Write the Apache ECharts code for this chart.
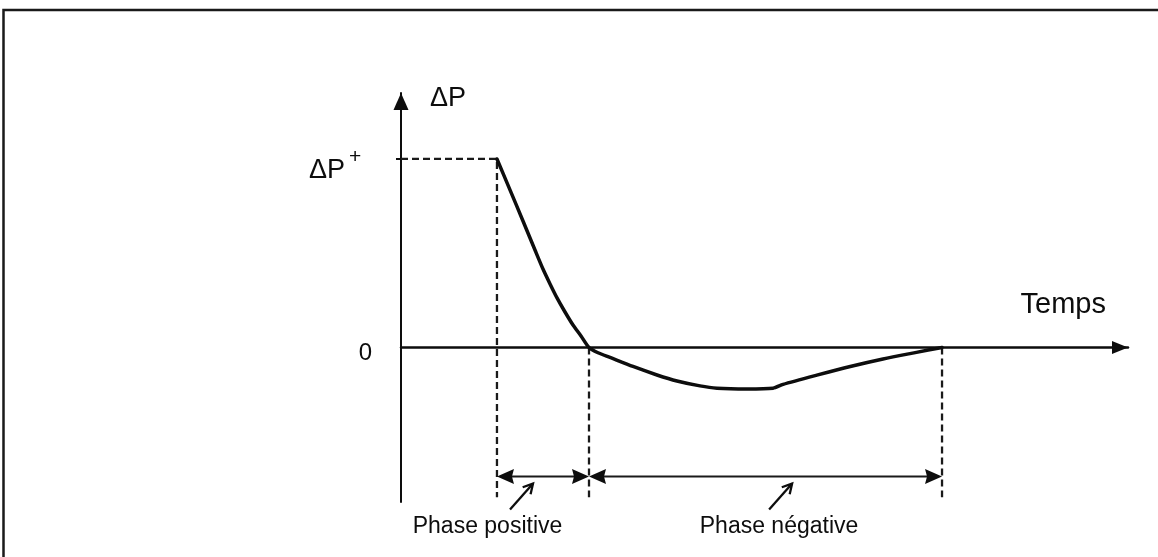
<!DOCTYPE html>
<html>
<head>
<meta charset="utf-8">
<script src="https://cdn.jsdelivr.net/npm/echarts@6/dist/echarts.min.js"></script>
<style>
html,body{margin:0;padding:0;background:#fff;}
#chart{width:1158px;height:557px;}
</style>
</head>
<body>
<div id="chart"></div>
<script>
// ---------------- data (time: arbitrary units, pressure relative to ΔP+ = 1) ----------------
const curveTime = [13.2, 14.99, 16.78, 18.43, 19.53, 20.50, 21.46, 22.56, 23.66, 24.76, 25.86,
                   27.10, 28.75, 31.91, 35.21, 37.96, 41.13, 43.47, 47.59, 51.17, 52.55,
                   57.2, 61.8, 66.3, 70.9, 74.42];
const curvePressure = [1.0, 0.836, 0.671, 0.517, 0.416, 0.337, 0.263, 0.188, 0.119, 0.061, 0,
                       -0.028, -0.053, -0.101, -0.146, -0.178, -0.204, -0.216, -0.220, -0.216, -0.196,
                       -0.147, -0.101, -0.061, -0.026, 0];
const peakPressure = 1;        // ΔP+
const tArrival = 13.2;         // start of positive phase
const tZeroCross = 25.86;      // end of positive phase
const tEnd = 74.42;            // end of negative phase
const phaseNames = ['Phase positive', 'Phase négative'];
const phaseStart = [tArrival, tZeroCross];
const phaseEnd = [tZeroCross, tEnd];
const phaseLabelTime = [11.9, 52.0];
const phaseArrowTime = [18.16, 53.8];
const yAxisName = 'ΔP';
const xAxisName = 'Temps';
const zeroLabel = '0';
const peakLabel = 'ΔP';
const peakSup = '+';

// axis ranges
const xMin = 0, xMax = 100;
const yMin = -0.82, yMax = 1.35;
const dimLevel = -0.685;       // level of the dimension arrows
const dashBottom = -0.795;     // lower end of the vertical guide lines

const FONT = '"Liberation Sans", Arial, sans-serif';
const INK = '#0d0d0d';

const chart = echarts.init(document.getElementById('chart'), null, {renderer: 'canvas'});

function dashSeries(points) {
  return {
    type: 'line', data: points, symbol: 'none', silent: true, z: 2,
    lineStyle: {color: '#1a1a1a', width: 2.3, type: [7, 4]}
  };
}

const option = {
  animation: false,
  backgroundColor: '#fff',
  textStyle: {fontFamily: FONT},
  grid: {left: 401, right: 30, top: 93, bottom: 55, containLabel: false},
  xAxis: {
    type: 'value', min: xMin, max: xMax,
    name: xAxisName, nameLocation: 'end', nameGap: -22,
    nameTextStyle: {fontSize: 29, color: INK, fontFamily: FONT, align: 'right', verticalAlign: 'bottom', padding: [0, 0, 28, 0]},
    axisLine: {show: true, onZero: true, symbol: ['none', 'triangle'], symbolSize: [13, 16], symbolOffset: [0, -8],
      lineStyle: {color: INK, width: 2.5}},
    axisTick: {show: false}, axisLabel: {show: false}, splitLine: {show: false}
  },
  yAxis: {
    type: 'value', min: yMin, max: yMax,
    name: yAxisName, nameLocation: 'end', nameGap: -6,
    nameTextStyle: {fontSize: 27, color: INK, fontFamily: FONT, align: 'left', verticalAlign: 'middle', padding: [0, 0, 0, 29]},
    axisLine: {show: true, onZero: true, symbol: ['none', 'triangle'], symbolSize: [15, 17], symbolOffset: [0, -8.5],
      lineStyle: {color: INK, width: 2}},
    axisTick: {show: true, customValues: [peakPressure], length: 5, lineStyle: {color: INK, width: 2}},
    axisLabel: {show: false},
    splitLine: {show: false}
  },
  graphic: [{
    type: 'rect', silent: true, z: 100,
    shape: {x: 3.5, y: 10, width: 1200, height: 620},
    style: {stroke: '#1a1a1a', lineWidth: 2.5, fill: null}
  }],
  series: [
    dashSeries([[xMin, peakPressure], [tArrival, peakPressure], [tArrival, dashBottom]]),
    dashSeries([[tZeroCross, 0], [tZeroCross, dashBottom]]),
    dashSeries([[tEnd, 0], [tEnd, dashBottom]]),
    {
      type: 'line', name: 'ΔP(t)', z: 5, symbol: 'none', smooth: 0.25, silent: true,
      data: curveTime.map((t, i) => [t, curvePressure[i]]),
      lineStyle: {color: INK, width: 3.5, cap: 'round', join: 'round'}
    },
    {
      // dimension double arrows for the two phases
      type: 'custom', silent: true, clip: false, z: 4,
      data: phaseNames.map((n, i) => [phaseStart[i], phaseEnd[i], dimLevel]),
      renderItem(params, api) {
        const a = api.coord([api.value(0), api.value(2)]);
        const b = api.coord([api.value(1), api.value(2)]);
        const L = 17, H = 7.5;
        return {type: 'group', children: [
          {type: 'line', shape: {x1: a[0] + L - 2, y1: a[1], x2: b[0] - L + 2, y2: b[1]}, style: {stroke: '#1a1a1a', lineWidth: 2}},
          {type: 'polygon', shape: {points: [[a[0], a[1]], [a[0] + L, a[1] - H], [a[0] + L - 2, a[1]], [a[0] + L, a[1] + H]]}, style: {fill: INK}},
          {type: 'polygon', shape: {points: [[b[0], b[1]], [b[0] - L, b[1] - H], [b[0] - L + 2, b[1]], [b[0] - L, b[1] + H]]}, style: {fill: INK}}
        ]};
      }
    },
    {
      // phase labels with small pointer arrows
      type: 'custom', silent: true, clip: false, z: 4,
      data: phaseNames.map((n, i) => [phaseLabelTime[i], phaseArrowTime[i]]),
      renderItem(params, api) {
        const idx = params.dataIndex;
        const lineY = api.coord([0, dimLevel])[1];
        const lx = api.coord([api.value(0), dimLevel])[0];
        const tip = [api.coord([api.value(1), dimLevel])[0], lineY + 7];
        const tail = [tip[0] - 23, tip[1] + 26];
        const ang = Math.atan2(tip[1] - tail[1], tip[0] - tail[0]);
        const hl = 11, ha = 0.5;
        const h1 = [tip[0] - hl * Math.cos(ang - ha), tip[1] - hl * Math.sin(ang - ha)];
        const h2 = [tip[0] - hl * Math.cos(ang + ha), tip[1] - hl * Math.sin(ang + ha)];
        return {type: 'group', children: [
          {type: 'line', shape: {x1: tail[0], y1: tail[1], x2: tip[0], y2: tip[1]}, style: {stroke: INK, lineWidth: 2.3}},
          {type: 'polyline', shape: {points: [h1, tip, h2]}, style: {stroke: INK, lineWidth: 2.3, fill: null}},
          {type: 'text', x: lx, y: lineY + 50, style: {text: phaseNames[idx], font: '23px ' + FONT, fill: INK, align: 'center', verticalAlign: 'middle'}}
        ]};
      }
    },
    {
      // ΔP+ and 0 labels on the pressure axis
      type: 'custom', silent: true, clip: false, z: 4,
      data: [[xMin, peakPressure, 0]],
      renderItem(params, api) {
        const p = api.coord([api.value(0), api.value(1)]);
        const z = api.coord([api.value(0), api.value(2)]);
        return {type: 'group', children: [
          {type: 'text', x: p[0] - 56, y: p[1] + 12, style: {text: peakLabel, font: '27px ' + FONT, fill: INK, align: 'right', verticalAlign: 'middle'}},
          {type: 'text', x: p[0] - 52, y: p[1] - 2, style: {text: peakSup, font: '21px ' + FONT, fill: INK, align: 'left', verticalAlign: 'middle'}},
          {type: 'text', x: z[0] - 29, y: z[1] + 6, style: {text: zeroLabel, font: '24px ' + FONT, fill: INK, align: 'right', verticalAlign: 'middle'}}
        ]};
      }
    }
  ]
};
chart.setOption(option);
</script>
</body>
</html>
